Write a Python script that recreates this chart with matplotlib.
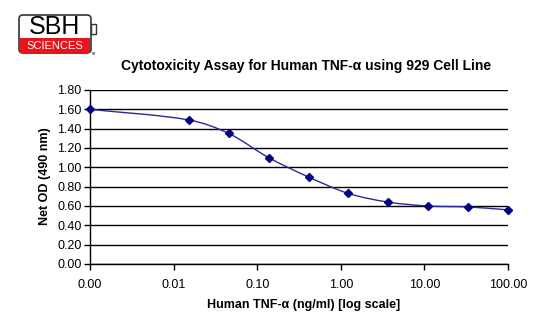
import numpy as np
import matplotlib
matplotlib.use("Agg")
import matplotlib.pyplot as plt
from matplotlib.path import Path
from matplotlib.patches import PathPatch, FancyBboxPatch, Rectangle
from matplotlib.transforms import IdentityTransform
from matplotlib.ticker import FuncFormatter, FixedLocator

plt.rcParams['font.family'] = ['Liberation Sans', 'DejaVu Sans']

# data
conc = [0.001, 0.01524, 0.0457, 0.1372, 0.4115, 1.235, 3.704, 11.11, 33.33, 100.0]
od = [1.60, 1.49, 1.35, 1.10, 0.90, 0.73, 0.64, 0.60, 0.59, 0.56]
xticks = [0.001, 0.01, 0.1, 1, 10, 100]
yticks = [0.0, 0.2, 0.4, 0.6, 0.8, 1.0, 1.2, 1.4, 1.6, 1.8]
title = "Cytotoxicity Assay for Human TNF-\u03b1 using 929 Cell Line"
xlabel = "Human TNF-\u03b1 (ng/ml) [log scale]"
ylabel = "Net OD (490 nm)"

W, H = 560, 325
fig = plt.figure(figsize=(W/100, H/100), dpi=100)
ax = fig.add_axes([90/W, 1-264/H, 418/W, 174/H])
ax.set_xscale('log')
ax.set_xlim(0.001, 100)
ax.set_ylim(0, 1.8)
ax.xaxis.set_major_locator(FixedLocator(xticks))
ax.xaxis.set_minor_locator(FixedLocator([]))
ax.xaxis.set_major_formatter(FuncFormatter(lambda v, p: f"{v:.2f}"))
ax.set_yticks(yticks)
ax.yaxis.set_major_formatter(FuncFormatter(lambda v, p: f"{v:.2f}"))
ax.tick_params(axis='both', direction='out', length=4, width=1, color='black',
               labelsize=9, pad=2)
ax.tick_params(axis='x', pad=7)
ax.grid(axis='y', color='black', linewidth=1)
ax.set_axisbelow(True)
ax.spines['right'].set_visible(False)
ax.spines['top'].set_visible(False)
for s in ['left', 'bottom']:
    ax.spines[s].set_linewidth(1)

# smoothed line (cardinal bezier in display space, chord-scaled tangents)
pts = ax.transData.transform(np.column_stack([conc, od]))
n = len(pts)
verts = [pts[0]]
codes = [Path.MOVETO]
def tangent(i):
    if i == 0:
        return pts[1] - pts[0], None
    if i == n-1:
        return pts[-1] - pts[-2], None
    return pts[i+1] - pts[i-1], None
for i in range(n-1):
    p1 = pts[i]
    p2 = pts[i+1]
    seg = np.linalg.norm(p2 - p1)
    t1 = tangent(i)[0]
    t2 = tangent(i+1)[0]
    c1 = p1 + t1 / np.linalg.norm(t1) * seg / 3.0
    c2 = p2 - t2 / np.linalg.norm(t2) * seg / 3.0
    verts += [c1, c2, p2]
    codes += [Path.CURVE4]*3
patch = PathPatch(Path(verts, codes), transform=IdentityTransform(), facecolor='none',
                  edgecolor='#2a2a99', linewidth=1.0, zorder=3)
ax.add_artist(patch)
ax.plot(conc, od, linestyle='none', marker='D', markersize=4.5, color='#000080',
        zorder=4, clip_on=False)

fig.text(306/W, 1-66/H, title, ha='center', va='center', fontsize=10, fontweight='bold')
fig.text(304/W, 1-305/H, xlabel, ha='center', va='center', fontsize=9, fontweight='bold')
fig.text(45/W, 1-176/H, ylabel, ha='center', va='center', fontsize=9, fontweight='bold',
         rotation=90)

# logo
lax = fig.add_axes([0, 0, 1, 1], zorder=10)
lax.set_xlim(0, W)
lax.set_ylim(H, 0)
lax.axis('off')
lax.add_patch(Rectangle((91, 24), 5, 10, facecolor='white', edgecolor='#333333', lw=1))
lax.add_patch(FancyBboxPatch((19, 15), 72, 38, boxstyle='round,pad=0,rounding_size=4',
                             facecolor='white', edgecolor='#333333', lw=1.2))
lax.add_patch(Rectangle((20, 38), 70, 15, facecolor='#e8141c', edgecolor='none'))
lax.text(55, 27.5, "SBH", ha='center', va='center', fontsize=18, color='black',
         family='Liberation Sans')
lax.text(55, 46, "SCIENCES", ha='center', va='center', fontsize=8, color='white',
         family='Liberation Sans')
lax.text(92, 54, "TM", ha='left', va='center', fontsize=2, color='black')

fig.savefig("out.png", dpi=100, facecolor='white')
